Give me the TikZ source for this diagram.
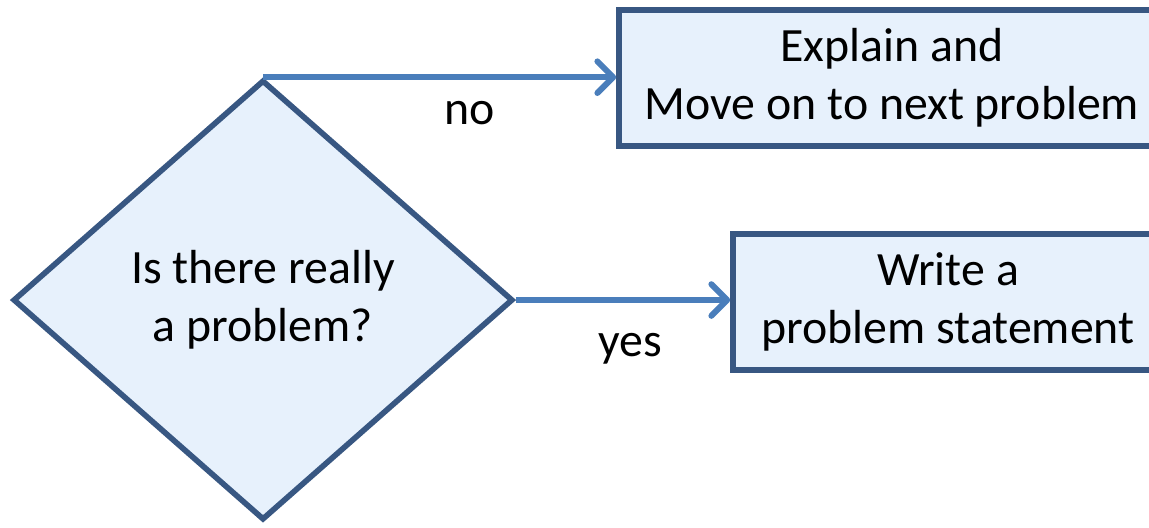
\documentclass[tikz,border=0pt]{standalone}
\usepackage{fontspec}
\setmainfont{Carlito}
\usetikzlibrary{shapes.geometric, arrows.meta}

\definecolor{boxfill}{HTML}{E7F1FC}
\definecolor{boxline}{HTML}{385782}
\definecolor{flowblue}{HTML}{4A7EBB}

\begin{document}
\begin{tikzpicture}[
  font=\fontsize{13.6}{16.5}\selectfont,
  decision/.style={diamond, draw=boxline, fill=boxfill, line width=1.6pt, inner sep=0pt, minimum width=5.0cm, minimum height=4.4cm, align=center},
  stepbox/.style={rectangle, draw=boxline, fill=boxfill, line width=1.6pt, align=center, minimum height=1.36cm},
  flow/.style={draw=flowblue, line width=1.7pt, -{Straight Barb[length=4.5pt, width=9pt, round]}}
]
\useasboundingbox (0,0) rectangle (11.49,5.27);

\node[decision] (q) at (2.63,2.27) {Is there really\\a problem?};
\node[stepbox, minimum width=5.46cm] (explain) at (8.92,4.49) {Explain and\\Move on to next problem};
\node[stepbox, minimum width=4.30cm] (write) at (9.48,2.25) {Write a\\problem statement};

\draw[flow] (q.north) -- (q.north -| explain.west);
\draw[flow] (q.east) -- (q.east -| write.west);

\node (no) at (4.70,4.14) {no};
\node (yes) at (6.30,1.78) {yes};
\end{tikzpicture}
\end{document}
